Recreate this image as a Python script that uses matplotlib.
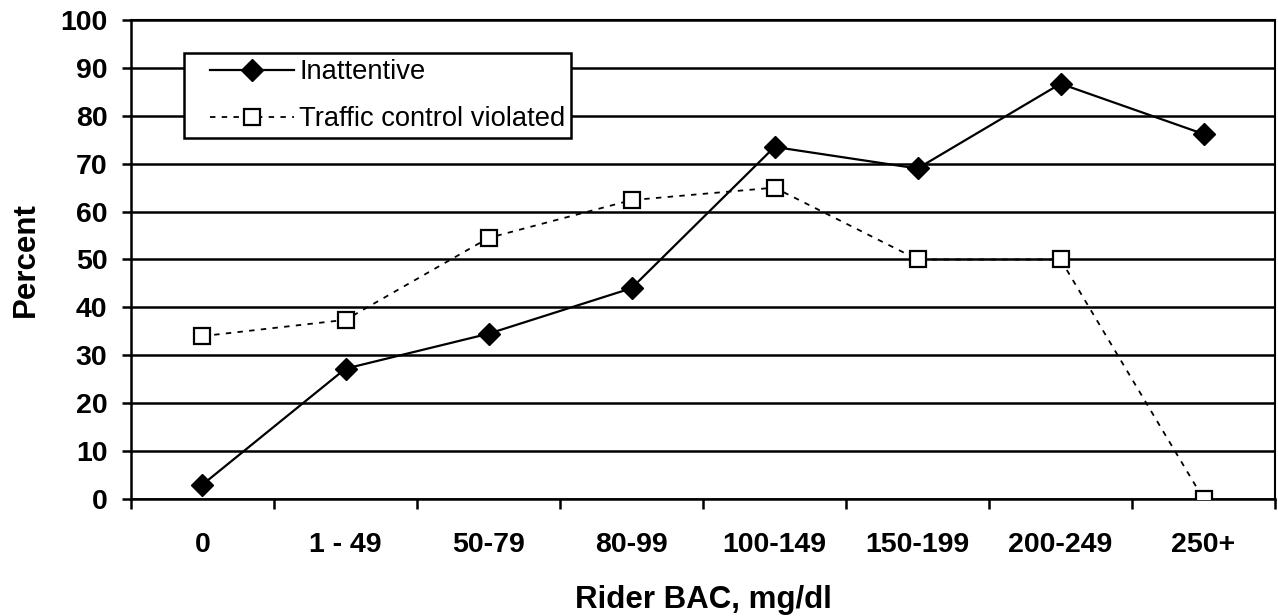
import matplotlib.pyplot as plt
from matplotlib.lines import Line2D
from matplotlib.legend_handler import HandlerLine2D
import numpy as np

plt.rcParams['font.family'] = ['Liberation Sans', 'DejaVu Sans']

categories = ["0", "1 - 49", "50-79", "80-99", "100-149", "150-199", "200-249", "250+"]
inattentive = [3.0, 27.2, 34.5, 44.0, 73.5, 69.0, 86.7, 76.2]
traffic_violated = [34.0, 37.4, 54.5, 62.4, 65.0, 50.0, 50.0, 0.0]

fig = plt.figure(figsize=(12.78, 6.16), dpi=100)
ax = fig.add_axes([0.1025, 0.19, 0.8952, 0.7775])

x = np.arange(len(categories))
ax.plot(x, inattentive, "-", color="black", lw=1.6, marker="D", ms=11,
        mfc="black", mec="black", label="Inattentive", zorder=3)
ax.plot(x, traffic_violated, color="black", lw=1.3, ls=(0, (3, 3.5)), marker="s", ms=12,
        mfc="white", mec="black", mew=1.6, label="Traffic control violated", zorder=3)

ax.set_xlim(-0.5, len(categories) - 0.5)
ax.set_ylim(0, 100)
ax.set_yticks(np.arange(0, 101, 10))
ax.yaxis.grid(True, color="black", lw=1.8)
ax.set_axisbelow(True)

ax.set_xticks(x)
ax.set_xticklabels(categories, fontsize=20.5, fontweight="bold")
ax.tick_params(axis="x", length=0, pad=23.5)
ax.set_xticks(np.arange(-0.5, len(categories), 1), minor=True)
ax.tick_params(axis="x", which="minor", length=7.5, width=1.8, direction="out")
ax.tick_params(axis="y", length=6.5, width=1.8, direction="out", labelsize=20.5, pad=10.5)
for lab in ax.get_yticklabels():
    lab.set_fontweight("bold")

for side in ["left", "bottom"]:
    ax.spines[side].set_linewidth(1.8)
for side in ["right", "top"]:
    ax.spines[side].set_linewidth(1.5)

ax.set_xlabel("Rider BAC, mg/dl", fontsize=22.5, fontweight="bold", labelpad=20)
ax.set_ylabel("Percent", fontsize=22.5, fontweight="bold", labelpad=14)

leg = ax.legend(loc="upper left", bbox_to_anchor=(0.046, 0.931), borderaxespad=0,
                fontsize=19.7, fancybox=False, edgecolor="black", framealpha=1,
                handlelength=3.8, handletextpad=0.2, borderpad=0.22, labelspacing=0.78,
                handler_map={Line2D: HandlerLine2D(xpad=0.73)})
leg.get_frame().set_linewidth(1.8)

fig.savefig("out.png", dpi=100)
